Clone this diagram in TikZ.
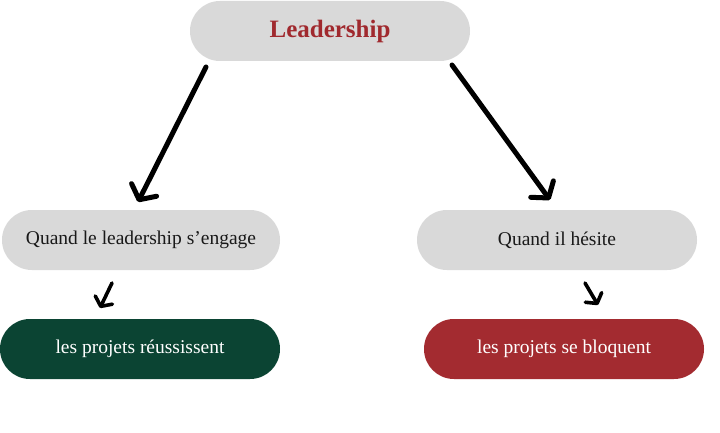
\documentclass[tikz,border=0pt]{standalone}
\usepackage{fontspec}
\setmainfont{Liberation Serif}
\usetikzlibrary{arrows.meta}
\definecolor{boxgray}{HTML}{D9D9D9}
\definecolor{darkred}{HTML}{A32B30}
\definecolor{darkgreen}{HTML}{0B4433}
\definecolor{txtred}{HTML}{A0292E}
\tikzset{
  pill/.style={rectangle, rounded corners=29.9pt, minimum width=280pt, minimum height=60pt, inner sep=0pt},
  graypill/.style={pill, fill=boxgray, text=black!90},
  bigarrow/.style={line width=5pt, line cap=round, line join=round, -{Straight Barb[length=11pt,width=28pt,round]}},
  smallarrow/.style={line width=3.6pt, line cap=round, line join=round, -{Straight Barb[length=7pt,width=19pt,round]}},
}
\begin{document}
\begin{tikzpicture}[x=1pt,y=1pt]
\useasboundingbox (0,0) rectangle (720,-433);
\node[graypill, font=\fontsize{25}{29}\selectfont\bfseries, text=txtred] (top) at (330,-31) {Leadership};
\node[graypill, minimum width=278pt, font=\fontsize{19.5}{23}\selectfont] (lm) at (141,-240) {Quand le leadership s’engage};
\node[graypill, font=\fontsize{19.5}{23}\selectfont] (rm) at (557,-240) {Quand il hésite};
\node[pill, fill=darkgreen, text=white, font=\fontsize{19.5}{23}\selectfont] (lb) at (140,-349) {les projets réussissent};
\node[pill, fill=darkred, text=white, font=\fontsize{19.5}{23}\selectfont] (rb) at (564,-349) {les projets se bloquent};
\coordinate (a1s) at (206,-67);
\coordinate (a1e) at (138,-202);
\coordinate (a2s) at (452,-65);
\coordinate (a2e) at (550,-200);
\coordinate (a3s) at (112,-283);
\coordinate (a3e) at (100,-308);
\coordinate (a4s) at (585,-283);
\coordinate (a4e) at (598,-305);
\draw[bigarrow] (a1s) -- (a1e);
\draw[bigarrow] (a2s) -- (a2e);
\draw[smallarrow] (a3s) -- (a3e);
\draw[smallarrow] (a4s) -- (a4e);
\end{tikzpicture}
\end{document}
